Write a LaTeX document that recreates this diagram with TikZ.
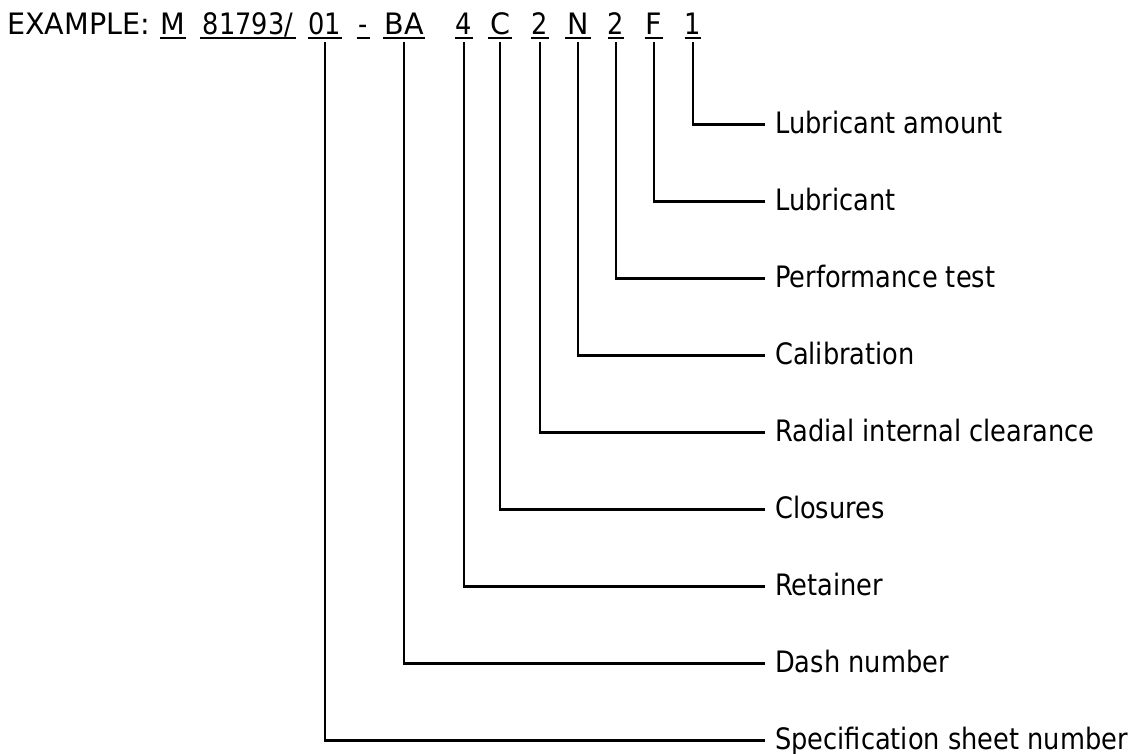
\documentclass[tikz,border=0pt]{standalone}
\usepackage{fontspec}
\setmainfont[FakeStretch=0.87]{DejaVu Sans}
\newfontfamily\widefont[FakeStretch=0.97]{DejaVu Sans}
\begin{document}
\begin{tikzpicture}[x=1pt,y=-1pt,
  every node/.style={font=\fontsize{29.5}{34}\selectfont},
  tok/.style={anchor=base,inner sep=0pt,text depth=3.5pt,minimum width=#1},
  uline/.style={line width=2pt},
  conn/.style={line width=2.2pt,line join=miter},
  lab/.style={anchor=west,inner xsep=10pt,inner ysep=0pt,text height=18pt,text depth=0pt}]
\useasboundingbox (0,0) rectangle (1136,754);
\node[anchor=base west,inner sep=0pt] (ex) at (7,34.5) {\widefont EXAMPLE:};
\node[tok=26pt] (tM) at (173,34.5) {\widefont M};
\node[tok=96pt] (tS) at (248,34.5) {81793/};
\node[tok=33pt] (tD) at (325,34.5) {01};
\node[tok=13pt] (tH) at (363.5,34.5) {-};
\node[tok=42pt] (tB) at (404,34.5) {\widefont BA};
\node[tok=18pt] (tR) at (464,34.5) {4};
\node[tok=24pt] (tC) at (500,34.5) {\widefont C};
\node[tok=17pt] (tI) at (540,34.5) {2};
\node[tok=25pt] (tN) at (578,34.5) {\widefont N};
\node[tok=16pt] (tP) at (616,34.5) {2};
\node[tok=18pt] (tF) at (654,34.5) {\widefont F};
\node[tok=16pt] (tA) at (693,34.5) {1};
\foreach \t in {tM,tS,tD,tH,tB,tR,tC,tI,tN,tP,tF,tA}
  \draw[uline] (\t.south west) -- (\t.south east);
\node[lab] (lA) at (765,124.5) {Lubricant amount};
\node[lab] (lF) at (765,201.5) {Lubricant};
\node[lab] (lP) at (765,278.5) {Performance test};
\node[lab] (lN) at (765,355.5) {Calibration};
\node[lab] (lI) at (765,432.5) {Radial internal clearance};
\node[lab] (lC) at (765,509.5) {Closures};
\node[lab] (lR) at (765,586.5) {Retainer};
\node[lab] (lB) at (765,663.5) {Dash number};
\node[lab] (lD) at (765,740.5) {Specification sheet number};
\foreach \t/\l in {tA/lA,tF/lF,tP/lP,tN/lN,tI/lI,tC/lC,tR/lR,tB/lB,tD/lD}
  \draw[conn] ([yshift=-4pt]\t.south) |- (\l.west);
\end{tikzpicture}
\end{document}
